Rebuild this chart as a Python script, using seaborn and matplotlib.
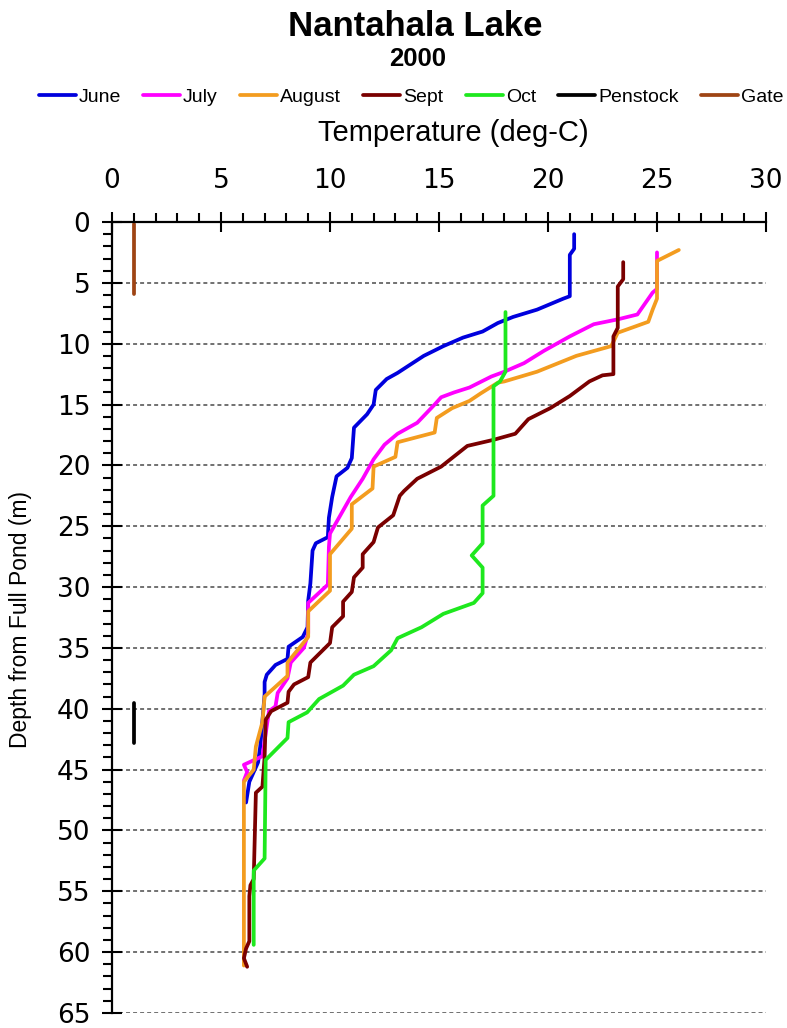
import matplotlib
matplotlib.use("Agg")
import matplotlib.pyplot as plt
from matplotlib.ticker import MultipleLocator
import seaborn as sns
import pandas as pd

# ---------------- data (temperature deg-C, depth m) ----------------
series_names = ["June", "July", "August", "Sept", "Oct", "Penstock", "Gate"]

june_t = [21.2, 21.2, 21.0, 21.0, 20.7, 19.5, 18.4, 17.7, 17.0, 16.1, 15.2, 14.3, 13.7, 13.1,
          12.6, 12.1, 12.0, 11.7, 11.1, 11.0, 10.8, 10.3, 10.1, 9.95, 9.9, 9.35, 9.2, 9.1, 9.0,
          8.97, 8.75, 8.1, 8.05, 7.5, 7.1, 7.0, 7.0, 6.9, 6.8, 6.7, 6.3, 6.15]
june_d = [1.0, 2.2, 2.7, 6.1, 6.3, 7.2, 7.8, 8.3, 9.0, 9.5, 10.2, 11.0, 11.7, 12.4,
          12.9, 13.8, 15.0, 15.8, 16.9, 19.4, 20.2, 20.9, 22.6, 24.3, 25.9, 26.4, 27.0, 29.7, 31.1,
          33.3, 34.1, 34.9, 35.9, 36.4, 37.2, 37.8, 38.8, 41.0, 43.1, 44.4, 46.0, 47.7]

july_t = [25.0, 25.0, 24.8, 24.1, 23.2, 22.1, 21.0, 19.8, 18.9, 18.0, 17.4, 16.4, 15.7, 15.1,
          14.8, 14.0, 13.1, 12.5, 12.0, 11.5, 10.95, 10.0, 9.95, 9.9, 9.0, 9.0, 8.8, 8.2, 8.05,
          7.6, 7.5, 7.2, 6.9, 6.05, 6.2, 6.05]
july_d = [2.5, 5.5, 5.8, 7.6, 8.0, 8.4, 9.4, 10.6, 11.6, 12.3, 12.7, 13.6, 14.0, 14.4,
          15.0, 16.5, 17.4, 18.3, 19.5, 21.1, 22.6, 25.6, 26.7, 29.8, 31.3, 33.8, 35.0, 36.2, 37.5,
          38.7, 39.8, 40.2, 43.9, 44.6, 45.2, 45.9]

aug_t = [26.0, 25.0, 25.0, 24.8, 24.6, 23.2, 22.9, 21.3, 19.5, 18.0, 17.7, 16.9, 16.4, 15.6,
         14.9, 14.8, 13.1, 13.0, 12.0, 11.95, 11.0, 11.0, 10.0, 10.0, 9.0, 9.0, 8.05, 8.05, 7.0,
         6.9, 6.6, 6.5, 6.05, 6.05]
aug_d = [2.3, 3.2, 6.3, 7.2, 8.2, 9.1, 10.2, 11.0, 12.3, 13.1, 13.2, 14.1, 14.7, 15.3,
         16.1, 17.3, 18.1, 19.3, 20.1, 21.9, 23.2, 25.2, 27.3, 30.3, 32.0, 34.1, 36.2, 37.3, 39.0,
         41.1, 43.1, 45.0, 46.0, 61.1]

sept_t = [23.45, 23.45, 23.2, 23.2, 23.0, 23.0, 22.5, 21.9, 21.0, 20.1, 19.1, 18.5, 17.5, 16.3,
          15.1, 14.0, 13.4, 13.2, 12.9, 12.2, 12.0, 11.5, 11.5, 11.1, 11.0, 10.6, 10.6, 10.1, 10.0,
          9.1, 9.0, 8.35, 8.1, 8.05, 7.3, 7.05, 7.0, 6.9, 6.6, 6.5, 6.35, 6.3, 6.3, 6.15, 6.05, 6.2]
sept_d = [3.3, 4.7, 5.3, 8.7, 9.4, 12.5, 12.6, 13.1, 14.3, 15.3, 16.2, 17.4, 17.9, 18.4,
          20.1, 21.1, 22.1, 22.5, 24.1, 25.1, 26.3, 27.3, 28.4, 29.2, 30.4, 31.2, 32.4, 33.3, 34.6,
          36.2, 37.4, 38.0, 38.6, 39.5, 40.2, 40.9, 44.0, 46.4, 46.9, 54.0, 54.5, 55.4, 59.1, 59.7, 60.5, 61.2]

oct_t = [18.05, 18.05, 17.8, 17.5, 17.5, 17.0, 17.0, 16.5, 17.0, 17.0, 16.6, 15.2, 14.2, 13.1,
         12.8, 12.0, 11.1, 10.6, 9.5, 8.95, 8.1, 8.05, 7.05, 7.0, 6.5, 6.5]
oct_d = [7.4, 12.3, 13.1, 13.5, 22.5, 23.3, 26.4, 27.4, 28.4, 30.5, 31.3, 32.2, 33.3, 34.2,
         35.2, 36.5, 37.2, 38.1, 39.2, 40.3, 41.1, 42.4, 44.2, 52.3, 53.3, 59.4]

penstock_t = [1.0, 1.0]
penstock_d = [39.5, 42.8]

gate_t = [1.0, 1.0]
gate_d = [0.2, 5.9]

x_ticks = [0, 5, 10, 15, 20, 25, 30]
y_ticks = [0, 5, 10, 15, 20, 25, 30, 35, 40, 45, 50, 55, 60, 65]

colors = {"June": "#0000DD", "July": "#FF00FF", "August": "#F39C1F", "Sept": "#7A0000",
          "Oct": "#1EE81E", "Penstock": "#000000", "Gate": "#9E4414"}

# ---------------- build long table ----------------
all_t = [june_t, july_t, aug_t, sept_t, oct_t, penstock_t, gate_t]
all_d = [june_d, july_d, aug_d, sept_d, oct_d, penstock_d, gate_d]
rows = []
for name, ts, ds in zip(series_names, all_t, all_d):
    for i, (t, d) in enumerate(zip(ts, ds)):
        rows.append({"series": name, "order": i, "temp": t, "depth": d})
df = pd.DataFrame(rows)

# ---------------- style ----------------
sns.set_theme(style="white")
plt.rcParams["font.family"] = ["Liberation Sans", "DejaVu Sans"]
plt.rcParams["text.color"] = "black"
plt.rcParams["axes.labelcolor"] = "black"
plt.rcParams["xtick.color"] = "black"
plt.rcParams["ytick.color"] = "black"

fig = plt.figure(figsize=(7.87, 10.28), dpi=100)
ax = fig.add_axes([112 / 787, 1 - 1013 / 1028, (766 - 112) / 787, (1013 - 222) / 1028])

sns.lineplot(data=df, x="temp", y="depth", hue="series", hue_order=series_names,
             palette=colors, sort=False, estimator=None, linewidth=2.7, legend=False, ax=ax)

ax.set_xlim(0, 30)
ax.set_ylim(65, 0)
ax.set_xticks(x_ticks)
ax.set_yticks(y_ticks)
ax.set_xticklabels([str(v) for v in x_ticks])
ax.set_yticklabels([str(v) for v in y_ticks])
ax.xaxis.set_minor_locator(MultipleLocator(1))
ax.yaxis.set_minor_locator(MultipleLocator(1))
ax.xaxis.tick_top()
ax.set_xlabel("")
ax.set_ylabel("")

for s in ["bottom", "right"]:
    ax.spines[s].set_visible(False)
for s in ["top", "left"]:
    ax.spines[s].set_visible(True)
    ax.spines[s].set_color("black")
    ax.spines[s].set_linewidth(1.6)

ax.tick_params(axis="both", which="major", direction="inout", length=15, width=1.5,
               color="black", labelcolor="black", labelsize=19)
ax.tick_params(axis="both", which="minor", direction="out", length=6.5, width=1.5, color="black")
ax.tick_params(axis="x", which="both", top=True, bottom=False, labeltop=True, labelbottom=False)
ax.tick_params(axis="y", which="both", left=True, right=False)
ax.tick_params(axis="x", which="major", pad=13)
ax.tick_params(axis="y", which="major", pad=8)
for lbl in ax.get_xticklabels() + ax.get_yticklabels():
    lbl.set_family(["DejaVu Sans"])
    lbl.set_color("black")

ax.yaxis.grid(True, which="major", linestyle=(0, (2.6, 2.0)), color="#4a4a4a", linewidth=1.1)
ax.xaxis.grid(False)
ax.set_axisbelow(True)

# ---------------- texts ----------------
fig.text(415 / 787, 1 - 26 / 1028, "Nantahala Lake", ha="center", va="center",
         fontsize=25, fontweight="bold", color="black")
fig.text(418 / 787, 1 - 59 / 1028, "2000", ha="center", va="center",
         fontsize=18.5, fontweight="bold", color="black")
fig.text(453 / 787, 1 - 133 / 1028, "Temperature (deg-C)", ha="center", va="center",
         fontsize=21, color="black")
fig.text(21 / 787, 1 - 620 / 1028, "Depth from Full Pond (m)", ha="center", va="center",
         rotation=90, fontsize=16.5, color="black")

handles = ax.get_lines()[:len(series_names)]
leg = fig.legend(handles=handles, labels=series_names, loc="center", ncol=7,
                 bbox_to_anchor=(411 / 787, 1 - 97 / 1028), frameon=False, fontsize=14,
                 handlelength=1.9, handletextpad=0.15, columnspacing=1.15, borderaxespad=0,
                 borderpad=0, labelcolor="black")

fig.savefig("out.png", dpi=100)
